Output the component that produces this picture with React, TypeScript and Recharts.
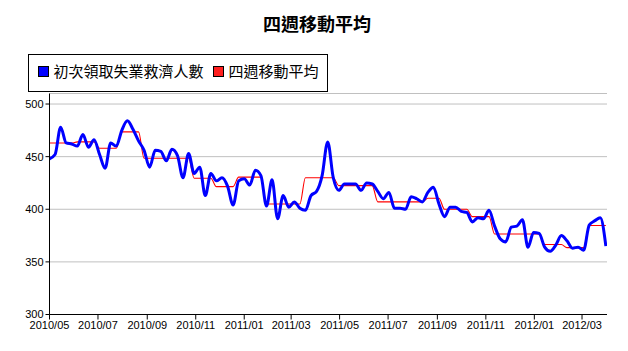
import React from 'react';
import { LineChart, Line, XAxis, YAxis, CartesianGrid } from 'recharts';

// Weekly initial jobless claims (thousands), weeks ending on Saturdays from 2010/05/01
const firstWeekEnding = '2010-05-01';
const claims = [
  448, 452, 478, 463, 462, 460, 471, 459, 466, 452,
  439, 463, 460, 475, 484, 476, 465, 456, 440, 456,
  455, 446, 457, 451, 430, 453, 434, 440, 413, 434,
  427, 430, 422, 404, 427, 429, 423, 437, 432, 403,
  428, 391, 413, 402, 407, 401, 399, 413, 417, 432,
  464, 430, 418, 424, 424, 424, 418, 425, 424, 417,
  410, 416, 401, 401, 400, 412, 410, 407, 416, 421,
  405, 393, 402, 402, 398, 397, 388, 392, 391, 399,
  384, 372, 369, 383, 384, 390, 364, 378, 377, 364,
  360, 366, 375, 370, 363, 364, 361, 385, 389, 392,
  365,
];
const movingAverage = [
  463, 463, 463, 463, 463, 464, 464, 464, 464, 458,
  458, 458, 458, 473.5, 473.5, 473.5, 473.5, 448.5, 448.5, 448.5,
  448.5, 448.5, 448.5, 448.5, 448.5, 448.5, 429.5, 429.5, 429.5, 429.5,
  421.5, 421.5, 421.5, 421.5, 430.5, 430.5, 430.5, 430.5, 430.5, 405,
  405, 405, 405, 405, 405, 405, 430, 430, 430, 430,
  430, 430, 422.5, 422.5, 422.5, 422.5, 422.5, 422.5, 422.5, 407,
  407, 407, 407, 407, 407, 407, 407, 407, 410.5, 410.5,
  410.5, 400, 400, 400, 400, 400, 393, 393, 393, 393,
  376.5, 376.5, 376.5, 376.5, 376.5, 376.5, 376.5, 376.5, 376.5, 366.5,
  366.5, 366.5, 366.5, 363.5, 363.5, 363.5, 363.5, 384.5, 384.5, 384.5,
  384.5,
];
const xTickLabels = [
  '2010/05', '2010/07', '2010/09', '2010/11', '2011/01', '2011/03',
  '2011/05', '2011/07', '2011/09', '2011/11', '2012/01', '2012/03',
];
const yTicks = [300, 350, 400, 450, 500];
const seriesNames = ['初次領取失業救濟人數', '四週移動平均'];
const title = '四週移動平均';

const DAY = 86400000;
const start = Date.parse(firstWeekEnding + 'T00:00:00Z');
const data = claims.map((v, i) => ({
  t: start + i * 7 * DAY,
  claims: v,
  avg: movingAverage[i],
}));
const xTicks = xTickLabels.map((s) => Date.UTC(+s.slice(0, 4), +s.slice(5) - 1, 1));
const xDomain = [start, Date.UTC(2012, 3, 1, 10)];

const fmt = (v: number) => {
  const d = new Date(v);
  return `${d.getUTCFullYear()}/${String(d.getUTCMonth() + 1).padStart(2, '0')}`;
};

const tickStyle = { fill: '#000', fontSize: 11, fontFamily: '"Liberation Sans", Arial, sans-serif' };
const cjk = '"Noto Sans CJK TC", "Noto Sans CJK SC", sans-serif';

export default function App() {
  return (
    <div style={{ position: 'absolute', left: 0, top: 0, width: 628, height: 351, background: '#fff' }}>
      <LineChart
        width={628}
        height={351}
        data={data}
        margin={{ top: 93.5, right: 21, left: 0.5, bottom: 0 }}
      >
        <CartesianGrid horizontal vertical={false} stroke="#c0c0c0" strokeWidth={1} />
        <XAxis
          dataKey="t"
          type="number"
          domain={xDomain}
          ticks={xTicks}
          tickFormatter={fmt}
          allowDataOverflow
          height={36.5}
          tickSize={5}
          tickMargin={2}
          stroke="#000"
          tick={tickStyle}
          interval={0}
        />
        <YAxis
          type="number"
          domain={[300, 510]}
          ticks={yTicks}
          allowDataOverflow
          width={49}
          tickSize={4}
          tickMargin={2}
          stroke="#000"
          tick={tickStyle}
          interval={0}
        />
        <Line
          dataKey="avg"
          type="monotone"
          stroke="#ff0000"
          strokeWidth={1.1}
          dot={false}
          activeDot={false}
          isAnimationActive={false}
        />
        <Line
          dataKey="claims"
          type="monotone"
          stroke="#0000ff"
          strokeWidth={3}
          dot={false}
          activeDot={false}
          isAnimationActive={false}
        />
      </LineChart>
      <svg
        width={628}
        height={351}
        style={{ position: 'absolute', left: 0, top: 0, pointerEvents: 'none' }}
      >
        <text x={317} y={31} textAnchor="middle" fontSize={18} fontWeight="bold" fontFamily={cjk} fill="#000">
          {title}
        </text>
        <rect x={28.5} y={54.5} width={299} height={37} fill="#fff" stroke="#000" strokeWidth={1} />
        <rect x={38.5} y={66.5} width={10} height={10} fill="#0000ff" stroke="#000" strokeWidth={1} />
        <text x={53.5} y={77.4} fontSize={15} fontFamily={cjk} fill="#000">
          {seriesNames[0]}
        </text>
        <rect x={213.5} y={66.5} width={10} height={10} fill="#ff2020" stroke="#000" strokeWidth={1} />
        <text x={228.5} y={77.4} fontSize={15} fontFamily={cjk} fill="#000">
          {seriesNames[1]}
        </text>
      </svg>
    </div>
  );
}
